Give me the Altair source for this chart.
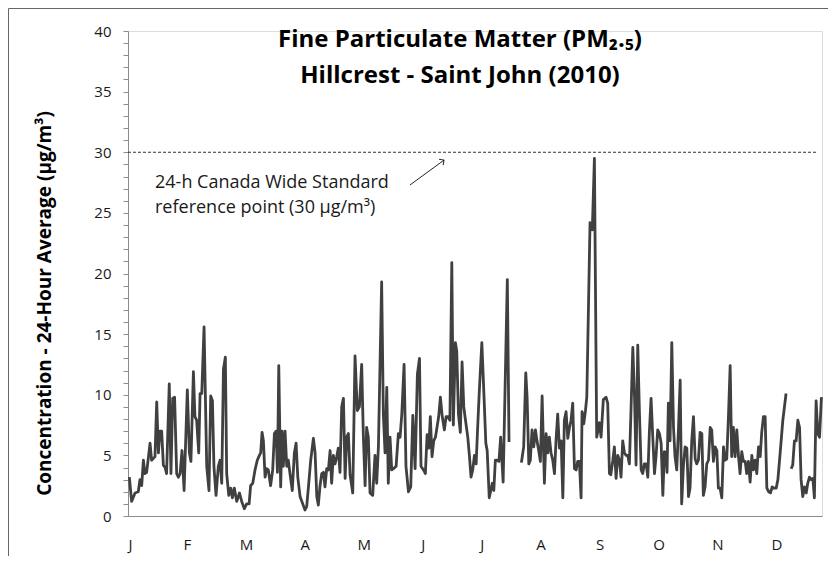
import altair as alt
import pandas as pd

# ---- data (day of year, 24-h PM2.5 in ug/m3); None marks a gap ----
days = [
    0.7, 1.9, 3.7, 5.4, 6.3, 7.2, 8.1, 8.9, 9.8, 11.6, 12.4, 14.2, 15.1, 16.0, 16.8, 17.7, 18.6, 19.5, 20.3,
    21.7, 22.6, 23.5, 24.5, 25.6, 26.5, 27.4, 28.4, 29.5, 31.2, 32.3, 33.1, 34.4, 35.2, 36.1, 37.2, 37.9,
    38.8, 40.0, 41.4, 42.6, 43.5, 44.4, 45.2, 46.3, 47.5, 48.4, 49.3, 50.2, 51.2, 51.9, 53.0, 54.0, 54.9,
    55.9, 57.2, 58.6, 59.8, 61.2, 62.4, 63.7, 64.5, 65.6, 66.8, 68.0, 69.1, 69.8, 70.5, 71.2, 72.1, 72.9,
    73.8, 75.0, 76.1, 77.0, 77.9, 78.6, 79.3, 80.3, 81.0, 81.7, 82.6, 83.5, 84.3, 85.2, 86.4, 87.5, 88.4,
    89.3, 90.5, 91.9, 93.1, 94.0, 94.9, 96.1, 97.5, 98.4, 99.3, 100.1, 101.0, 101.9, 102.8, 103.6, 104.5,
    105.4, 106.3, 107.1, 108.0, 108.9, 109.8, 110.6, 111.5, 112.4, 113.3, 114.2, 115.0, 115.9, 116.8, 118.2,
    119.4, 120.6, 121.7, 122.9, 123.8, 124.7, 125.5, 126.4, 127.3, 128.7, 129.9, 130.8, 131.7, 133.4, 134.3,
    135.2, 136.1, 136.9, 137.8, 138.7, 139.6, 141.0, 142.2, 143.1, 144.0, 145.2, 146.2, 147.5, 148.7, 149.8,
    151.0, 152.2, 153.3, 154.1, 155.4, 156.4, 157.3, 158.2, 159.0, 159.9, 160.8, 161.7, 162.5, 163.4, 164.3,
    165.2, 166.4, 167.3, 168.2, 169.3, 170.3, 171.1, 172.2, 172.9, 173.8, 174.8, 175.7, 176.6, 177.5, 178.7,
    179.6, 180.4, 181.3, 182.2, 183.1, 183.9, 184.8, 186.1, 186.9, 188.2, 188.9, 190.0, 190.8, 191.6, 192.4,
    193.2, 194.1, 195.1, 196.0, 197.3, 199.5, 200.4,
    None,
    206.9, 208.1, 209.2, 209.9, 210.8, 211.6, 212.5, 213.4, 214.3, 215.1, 216.0, 216.9, 217.8, 219.0, 219.9,
    220.8, 221.6, 222.5, 223.4, 224.3, 225.1, 226.0, 226.9, 227.8, 228.7, 229.5, 230.4, 231.3, 232.2, 233.0,
    233.9, 234.8, 235.7, 236.5, 237.4, 238.3, 238.8, 239.7, 240.6, 241.3, 243.0, 244.2, 245.3, 246.5, 247.9,
    248.8, 250.0, 251.4, 252.3, 253.2, 253.9, 255.0, 255.8, 256.7, 257.6, 258.5, 259.3, 260.2, 261.1, 262.0,
    262.8, 263.7, 264.6, 265.5, 266.4, 267.2, 268.1, 269.0, 269.9, 270.7, 271.6, 272.5, 273.4, 274.2, 275.1,
    276.0, 276.9, 277.7, 278.6, 279.5, 280.4, 281.3, 282.1, 283.0, 283.5, 284.2, 285.1, 286.0, 286.9, 287.7,
    288.6, 289.5, 290.4, 291.2, 292.1, 293.0, 293.9, 294.8, 295.6, 296.5, 297.4, 298.3, 299.1, 300.0, 300.9,
    301.8, 302.6, 303.5, 304.4, 305.3, 306.2, 307.0, 307.9, 308.8, 309.7, 310.5, 311.4, 312.3, 313.2, 314.0,
    314.9, 315.8, 316.7, 317.5, 318.4, 319.3, 320.2, 321.1, 321.9, 322.8, 323.7, 324.6, 325.4, 326.3, 327.2,
    328.1, 328.9, 329.8, 330.7, 331.6, 332.5, 333.3, 334.2, 335.1, 336.0, 337.0, 337.9, 338.8, 339.6, 340.9,
    341.8, 343.0, 344.4, 346.1,
    None,
    348.8, 349.6, 350.5, 351.4, 352.3, 353.2, 354.0, 354.9, 355.8, 356.7, 357.5, 358.4, 359.3, 360.2, 361.0,
    361.9, 362.8, 363.7, 364.7,
]
pm25 = [
    3.2, 1.2, 1.9, 2.0, 3.0, 2.5, 4.6, 3.5, 3.6, 6.0, 4.6, 4.9, 9.4, 5.2, 7.0, 7.0, 4.2, 4.0, 3.5,
    10.9, 3.5, 9.7, 9.8, 3.5, 3.2, 3.5, 5.4, 2.1, 10.4, 5.2, 4.5, 11.9, 8.2, 7.9, 5.2, 10.1,
    10.1, 15.6, 4.1, 2.1, 9.9, 9.5, 4.1, 1.7, 4.1, 4.6, 2.7, 12.1, 13.1, 3.5, 1.7, 2.3, 1.5,
    2.3, 1.2, 1.9, 1.2, 0.6, 1.0, 1.0, 2.5, 2.7, 3.8, 4.6, 5.0, 5.2, 6.9, 6.2, 3.2, 3.9,
    3.8, 2.5, 3.8, 6.8, 7.0, 3.6, 12.4, 2.4, 7.0, 4.1, 7.0, 4.1, 4.6, 3.5, 2.1, 5.2, 6.0,
    3.2, 1.6, 1.0, 0.5, 0.8, 2.4, 4.6, 6.4, 5.2, 1.6, 0.9, 2.5, 3.5, 3.6, 2.4, 3.9,
    3.8, 5.4, 2.7, 5.0, 4.3, 4.9, 5.6, 3.6, 9.0, 9.7, 3.1, 6.5, 6.8, 3.4, 1.9,
    13.2, 8.7, 9.0, 12.5, 6.5, 2.5, 7.3, 6.5, 1.9, 1.7, 5.0, 2.7, 5.7, 19.3, 8.4,
    5.2, 10.6, 2.7, 6.5, 3.8, 3.9, 4.1, 6.8, 6.5, 8.4, 12.5, 4.1, 2.0, 2.4, 8.3,
    3.9, 11.7, 13.0, 4.1, 3.8, 3.5, 6.7, 5.6, 8.2, 4.9, 6.2, 6.5, 7.3, 8.2, 9.8,
    8.3, 7.1, 8.2, 8.2, 7.9, 20.9, 7.5, 14.3, 13.6, 8.4, 6.9, 12.7, 9.0, 7.9, 6.5,
    4.9, 3.2, 3.8, 5.0, 4.3, 7.3, 10.4, 14.3, 11.2, 6.0, 5.4, 1.5, 2.1, 2.7, 2.1,
    4.6, 4.6, 4.5, 6.5, 2.8, 19.5, 6.1,
    None,
    4.4, 5.7, 11.8, 9.8, 4.3, 4.6, 7.1, 5.7, 7.1, 6.2, 5.4, 4.5, 9.9, 2.7, 6.8,
    5.2, 6.5, 5.2, 4.6, 3.5, 6.2, 8.4, 5.6, 6.2, 1.5, 7.9, 8.6, 6.4, 7.3, 7.9,
    9.3, 3.9, 3.8, 4.5, 4.5, 1.5, 8.6, 7.6, 8.7, 9.8, 24.2, 23.6, 29.5, 6.5, 7.7,
    6.5, 9.6, 9.8, 9.3, 3.5, 3.4, 4.6, 5.7, 3.1, 5.0, 4.6, 3.2, 6.2, 5.2, 5.0,
    5.0, 4.3, 9.0, 13.9, 9.8, 4.2, 14.1, 8.4, 3.8, 3.5, 4.3, 4.3, 3.2, 6.9, 9.7,
    6.5, 3.5, 4.9, 7.1, 6.8, 6.0, 1.7, 5.3, 5.2, 3.6, 9.3, 6.2, 14.3, 7.3, 4.9,
    3.8, 7.1, 11.2, 1.0, 4.1, 5.7, 5.6, 1.6, 2.3, 6.2, 8.2, 4.7, 4.3, 4.6, 6.9,
    6.8, 1.7, 2.4, 4.3, 4.6, 7.3, 7.1, 4.5, 5.7, 5.4, 2.3, 2.3, 1.5, 5.7, 4.6,
    4.7, 8.2, 12.4, 4.9, 7.3, 4.9, 7.1, 4.9, 3.5, 5.3, 4.5, 4.5, 3.5, 4.5, 2.8,
    5.0, 3.8, 4.6, 3.5, 5.7, 4.9, 6.9, 8.2, 8.2, 2.3, 2.0, 1.9, 2.4, 2.3, 2.3,
    3.0, 5.2, 7.9, 10.1,
    None,
    3.9, 4.2, 6.2, 6.2, 7.9, 7.3, 3.0, 1.6, 2.4, 1.9, 2.7, 3.2, 3.0, 3.1, 1.5,
    9.5, 6.8, 6.5, 9.8,
]

month_ticks = [0, 31, 62, 93, 124, 155, 186, 217, 248, 279, 310, 341]
month_labels = ["J", "F", "M", "A", "M", "J", "J", "A", "S", "O", "N", "D"]
y_ticks = list(range(0, 41))          # minor ticks every 1 unit
y_label_step = 5                      # labels every 5 units

title_lines = ["Fine Particulate Matter (PM\u2082.\u2085)", "Hillcrest - Saint John (2010)"]
y_title = "Concentration - 24-Hour Average (\u00b5g/m\u00b3)"

standard_value = 30
standard_end_day = 362

ann_text = ["24-h Canada Wide Standard", "reference point (30 \u00b5g/m\u00b3)"]
ann_day = [14.2, 14.2]
ann_val = [27.45, 25.4]

arrow_day = [148.3, 166.2]
arrow_val = [27.3, 29.35]

# ---- build tables ----
rows = []
seg = 0
for d, v in zip(days, pm25):
    if d is None or v is None:
        seg += 1
        continue
    rows.append({"day": d, "pm": v, "seg": seg})
df = pd.DataFrame(rows)

FONT = "Open Sans"
W, H = 694, 485

label_js = "[" + ",".join('"%s"' % m for m in month_labels) + "]"

x_scale = alt.Scale(domain=[0, 365], nice=False, zero=False)
y_scale = alt.Scale(domain=[0, 40], nice=False)

x_axis = alt.Axis(values=month_ticks, labelExpr=label_js + "[round(datum.value/31)]",
                  ticks=False, grid=False, domainColor="#8c8c8c", domainWidth=1,
                  labelFont=FONT, labelFontSize=15, labelColor="#1a1a1a",
                  labelPadding=21, labelOverlap=False, title=None)
y_axis = alt.Axis(values=y_ticks,
                  labelExpr="datum.value %% %d == 0 ? datum.label : ''" % y_label_step,
                  labelOverlap=False, labelFlush=False, labelBound=False,
                  ticks=True, tickSize=5, tickColor="#8c8c8c", tickWidth=1, domainColor="#8c8c8c",
                  grid=False, labelFont=FONT, labelFontSize=15, labelColor="#1a1a1a",
                  labelPadding=12, title=y_title, titleFont=FONT, titleFontSize=19,
                  titleFontWeight="bold", titleColor="black", titleAngle=-90,
                  titleX=-84, titleY=272, titleAlign="center", titleBaseline="middle")


def X(field):
    return alt.X(field, scale=x_scale, axis=x_axis)


def Y(field):
    return alt.Y(field, scale=y_scale, axis=y_axis)


line = alt.Chart(df).mark_line(color="#404040", strokeWidth=2.8, strokeJoin="round").encode(
    x=X("day:Q"), y=Y("pm:Q"), detail="seg:N",
)

ref = alt.Chart(pd.DataFrame({"day": [0], "d1": [standard_end_day], "pm": [standard_value]})).mark_rule(
    color="#333333", strokeWidth=1, strokeDash=[3, 2]
).encode(x=X("day:Q"), x2="d1:Q", y=Y("pm:Q"))

ann = alt.Chart(pd.DataFrame({"t": ann_text, "day": ann_day, "pm": ann_val})).mark_text(
    align="left", baseline="middle", font=FONT, fontSize=18, color="#1a1a1a"
).encode(x=X("day:Q"), y=Y("pm:Q"), text="t:N")

arrow_line = alt.Chart(pd.DataFrame({"day": arrow_day, "pm": arrow_val})).mark_line(
    color="#222222", strokeWidth=1
).encode(x=X("day:Q"), y=Y("pm:Q"))

arrow_head = alt.Chart(pd.DataFrame({"day": arrow_day[1:], "pm": arrow_val[1:]})).mark_point(
    shape="M -1 1 L 0 0 L 1 1", size=50, filled=False, stroke="#222222", strokeWidth=1, angle=55, opacity=1
).encode(x=X("day:Q"), y=Y("pm:Q"))

border_left = alt.Chart(pd.DataFrame({"a": [0]})).mark_rule(color="#666666", strokeWidth=1).encode(
    x=alt.value(-119.5), y=alt.value(-22.5), y2=alt.value(H + 40)
)
border_top = alt.Chart(pd.DataFrame({"a": [0]})).mark_rule(color="#666666", strokeWidth=1).encode(
    x=alt.value(-119.5), x2=alt.value(W + 6), y=alt.value(-22.5)
)

chart = alt.layer(line, ref, ann, arrow_line, arrow_head, border_left, border_top).properties(
    width=W, height=H,
    title=alt.TitleParams(text=title_lines, font=FONT, fontSize=24, fontWeight="bold", color="black",
                          anchor="middle", frame="group", dx=-15, dy=84, lineHeight=36),
    padding={"left": 120, "top": 23, "right": 6, "bottom": 40},
    autosize=alt.AutoSizeParams(type="none"),
).configure_view(stroke=None).configure(background="white")

chart.save("out.html", embed_options={"renderer": "svg", "actions": False})
